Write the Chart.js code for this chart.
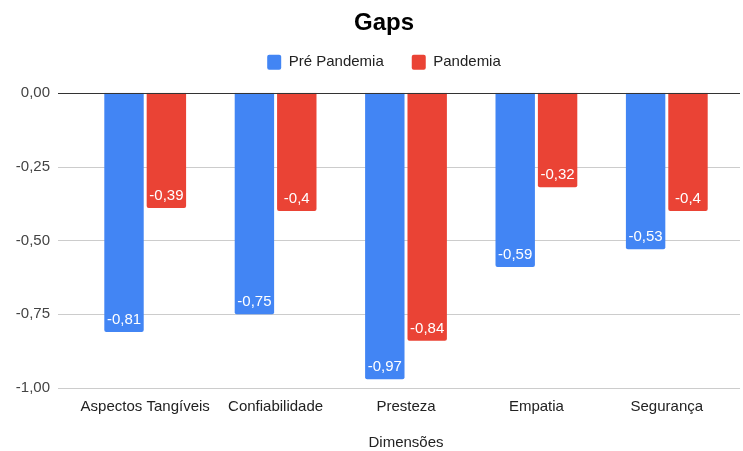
<!DOCTYPE html>
<html>
<head>
<meta charset="utf-8">
<script src="https://cdn.jsdelivr.net/npm/chart.js@4/dist/chart.umd.min.js"></script>
<style>
  html, body { margin: 0; padding: 0; background: #fff; }
  #wrap { width: 743px; height: 451px; }
</style>
</head>
<body>
<div id="wrap"><canvas id="c" width="743" height="451"></canvas></div>
<script>
// Dimensões avaliadas e gaps por período
const dimensoes = ['Aspectos Tangíveis', 'Confiabilidade', 'Presteza', 'Empatia', 'Segurança'];
const prePandemia = [-0.81, -0.75, -0.97, -0.59, -0.53];
const pandemia = [-0.39, -0.4, -0.84, -0.32, -0.4];
const yTicks = [0, -0.25, -0.5, -0.75, -1];

const FONT = '"Liberation Sans", Arial, sans-serif';
const fmtDec = v => v.toString().replace('.', ',');
const fmtTick = v => v.toFixed(2).replace('.', ',');

// Horizontal guide lines spanning a bit wider than the bar area
const gridPlugin = {
  id: 'wideGrid',
  beforeDatasetsDraw(chart) {
    const { ctx } = chart;
    const y = chart.scales.y;
    ctx.save();
    ctx.lineWidth = 1;
    ctx.strokeStyle = '#cccccc';
    yTicks.forEach(t => {
      if (t === 0) return;
      const py = Math.round(y.getPixelForValue(t)) + 0.5;
      ctx.beginPath();
      ctx.moveTo(58, py);
      ctx.lineTo(740, py);
      ctx.stroke();
    });
    ctx.restore();
  },
  afterDatasetsDraw(chart) {
    const { ctx } = chart;
    const y = chart.scales.y;
    ctx.save();
    // baseline at zero
    ctx.strokeStyle = '#333333';
    ctx.lineWidth = 1;
    const p0 = Math.round(y.getPixelForValue(0)) + 0.5;
    ctx.beginPath();
    ctx.moveTo(58, p0);
    ctx.lineTo(740, p0);
    ctx.stroke();
    // value labels inside the bar ends
    ctx.fillStyle = '#ffffff';
    ctx.font = '15px ' + FONT;
    ctx.textAlign = 'center';
    ctx.textBaseline = 'middle';
    chart.data.datasets.forEach((ds, i) => {
      const meta = chart.getDatasetMeta(i);
      meta.data.forEach((bar, j) => {
        ctx.fillText(fmtDec(ds.data[j]), bar.x, bar.y - 12);
      });
    });
    ctx.restore();
  }
};

new Chart(document.getElementById('c'), {
  type: 'bar',
  data: {
    labels: dimensoes,
    datasets: [
      { label: 'Pré Pandemia', data: prePandemia, backgroundColor: '#4285f4', borderRadius: 2 },
      { label: 'Pandemia', data: pandemia, backgroundColor: '#ea4335', borderRadius: 2 }
    ]
  },
  plugins: [gridPlugin],
  options: {
    responsive: false,
    animation: false,
    devicePixelRatio: 1,
    layout: { padding: { left: 0, right: -25, top: 3, bottom: 0 } },
    datasets: { bar: { barPercentage: 0.93, categoryPercentage: 0.65 } },
    plugins: {
      title: {
        display: true,
        text: 'Gaps',
        color: '#000000',
        font: { family: FONT, size: 24, weight: 'bold', lineHeight: 1.2 },
        padding: { top: 6, bottom: -11 }
      },
      legend: {
        display: true,
        labels: {
          color: '#222222',
          font: { family: FONT, size: 15 },
          boxWidth: 14,
          boxHeight: 15,
          useBorderRadius: true,
          borderRadius: 2,
          padding: 28
        }
      },
      tooltip: { enabled: false }
    },
    scales: {
      x: {
        grid: { display: false, drawTicks: false },
        border: { display: false },
        ticks: { color: '#222222', font: { family: FONT, size: 15 }, padding: 10, maxRotation: 0, autoSkip: false },
        title: { display: true, text: 'Dimensões', color: '#222222', font: { family: FONT, size: 15 }, padding: { top: 4, bottom: -1 } },
        afterFit(s) { s.height = 63; }
      },
      y: {
        min: -1,
        max: 0,
        afterBuildTicks(s) { s.ticks = yTicks.map(v => ({ value: v })); },
        grid: { display: false, drawTicks: false },
        border: { display: false },
        ticks: { color: '#444444', font: { family: FONT, size: 15 }, padding: 30, callback: v => fmtTick(v) },
        afterFit(s) { s.width = 80; }
      },
      // empty spacers: clearance right of the bars and below the legend
      spacer: {
        type: 'linear',
        position: 'right',
        display: true,
        grid: { display: false, drawTicks: false },
        border: { display: false },
        ticks: { display: false },
        afterFit(s) { s.width = 36; }
      },
      topSpacer: {
        type: 'linear',
        position: 'top',
        display: true,
        grid: { display: false, drawTicks: false },
        border: { display: false },
        ticks: { display: false },
        afterFit(s) { s.height = 13; }
      }
    }
  }
});
</script>
</body>
</html>
